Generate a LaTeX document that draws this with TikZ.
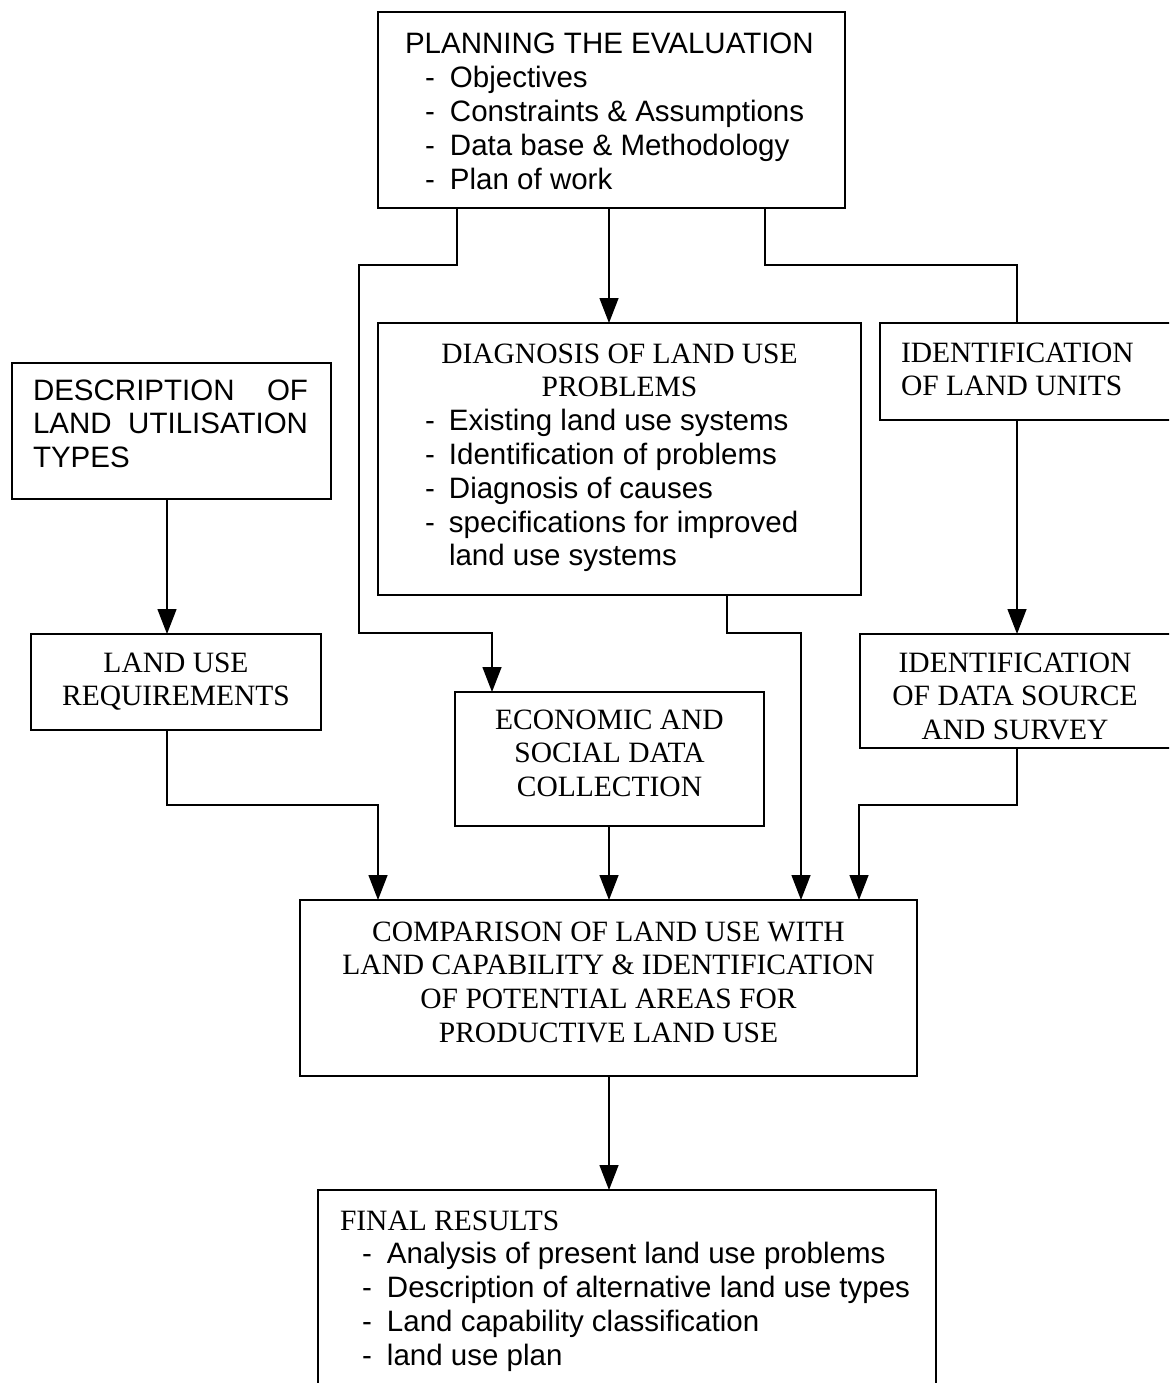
\documentclass[tikz,border=0pt]{standalone}
\usepackage{fontspec}
\setmainfont{Liberation Serif}
\setsansfont{Liberation Sans}
\usetikzlibrary{arrows.meta}
\newcommand{\txtsz}{\fontsize{29.5}{33.8}\selectfont}
\newcommand{\bul}[2]{\hspace*{#1}\makebox[#2][l]{-}}
\tikzset{
  box/.style={draw, line width=1.7pt, inner sep=0pt, outer sep=0pt},
  conn/.style={line width=1.4pt},
  arr/.style={-{Triangle[width=19pt,length=25pt]}},
  txt/.style={anchor=base west, inner sep=0pt, outer sep=0pt},
}
\begin{document}
\begin{tikzpicture}[x=1pt,y=-1pt]
\useasboundingbox (0,0) rectangle (1169,1383);
\clip (0,0) rectangle (1169,1383);
\fill[white] (0,0) rectangle (1169,1383);

% boxes
\node[box, minimum width=467pt, minimum height=196pt] (plan) at (611.5,110) {};
\node[box, minimum width=483pt, minimum height=272pt] (diag) at (619.5,459) {};
\node[box, minimum width=300pt, minimum height=97pt] (idland) at (1030,371.5) {};
\node[box, minimum width=319pt, minimum height=136pt] (desc) at (171.5,431) {};
\node[box, minimum width=290pt, minimum height=96pt] (lur) at (176,682) {};
\node[box, minimum width=309pt, minimum height=134pt] (econ) at (609.5,759) {};
\node[box, minimum width=320pt, minimum height=114pt] (datasrc) at (1020,691) {};
\node[box, minimum width=617pt, minimum height=176pt] (comp) at (608.5,988) {};
\node[box, minimum width=618pt, minimum height=210pt] (final) at (627,1295) {};

% texts
\node[txt] (plantxt) at (378,54) {\parbox[t]{467pt}{\sffamily\txtsz\raggedright
  \hspace*{27pt}PLANNING THE EVALUATION\\
  \bul{47pt}{25pt}Objectives\\
  \bul{47pt}{25pt}Constraints \& Assumptions\\
  \bul{47pt}{25pt}Data base \& Methodology\\
  \bul{47pt}{25pt}Plan of work}};

\node[txt] (diagtxt) at (378,363) {\parbox[t]{483pt}{{\rmfamily\txtsz\centering
  DIAGNOSIS OF LAND USE\\ PROBLEMS\par}
  {\sffamily\txtsz\raggedright
  \bul{47pt}{24pt}Existing land use systems\\
  \bul{47pt}{24pt}Identification of problems\\
  \bul{47pt}{24pt}Diagnosis of causes\\
  \bul{47pt}{24pt}specifications for improved\\
  \hspace*{71pt}land use systems\par}}};

\node[txt] (idlandtxt) at (901,362) {\parbox[t]{260pt}{\rmfamily\txtsz\raggedright
  IDENTIFICATION\\ OF LAND UNITS}};

\node[txt] (desctxt) at (33,400) {\parbox[t]{275pt}{\sffamily\txtsz\raggedright
  \makebox[275pt]{DESCRIPTION\hfill OF}\\
  \makebox[275pt]{LAND\hfill UTILISATION}\\
  TYPES}};

\node[txt] (lurtxt) at (31,672) {\parbox[t]{290pt}{\rmfamily\txtsz\centering
  LAND USE\\ REQUIREMENTS\par}};

\node[txt] (econtxt) at (455,729) {\parbox[t]{309pt}{\rmfamily\txtsz\centering
  ECONOMIC AND\\ SOCIAL DATA\\ COLLECTION\par}};

\node[txt] (datasrctxt) at (865,672) {\parbox[t]{300pt}{\rmfamily\txtsz\centering
  IDENTIFICATION\\ OF DATA SOURCE\\ AND SURVEY\par}};

\node[txt] (comptxt) at (300,941) {\parbox[t]{617pt}{\rmfamily\txtsz\centering
  COMPARISON OF LAND USE WITH\\
  LAND CAPABILITY \& IDENTIFICATION\\
  OF POTENTIAL AREAS FOR\\
  PRODUCTIVE LAND USE\par}};

\node[txt] (finaltxt) at (318,1230) {\parbox[t]{618pt}{{\rmfamily\txtsz\hspace*{22pt}FINAL RESULTS\par}
  {\sffamily\txtsz\raggedright
  \bul{44pt}{25pt}Analysis of present land use problems\\
  \bul{44pt}{25pt}Description of alternative land use types\\
  \bul{44pt}{25pt}Land capability classification\\
  \bul{44pt}{25pt}land use plan\par}}};

% connector coordinates
\coordinate (a1) at (457,265);
\coordinate (a2) at (359,265);
\coordinate (a3) at (359,633);
\coordinate (a4) at (492,633);
\coordinate (b1) at (609,0);
\coordinate (c1) at (765,265);
\coordinate (c2) at (1017,265);
\coordinate (d1) at (167,0);
\coordinate (e1) at (167,805);
\coordinate (e2) at (378,805);
\coordinate (f1) at (609,0);
\coordinate (g1) at (727,633);
\coordinate (g2) at (801,633);
\coordinate (h1) at (1017,0);
\coordinate (i1) at (1017,805);
\coordinate (i2) at (859,805);

% connectors
\draw[conn,arr] (plan.south -| a1) -- (a1) -- (a2) -- (a3) -- (a4) -- (econ.north -| a4);
\draw[conn,arr] (plan.south -| b1) -- (diag.north -| b1);
\draw[conn] (plan.south -| c1) -- (c1) -- (c2) -- (idland.north -| c2);
\draw[conn,arr] (desc.south -| d1) -- (lur.north -| d1);
\draw[conn,arr] (lur.south -| e1) -- (e1) -- (e2) -- (comp.north -| e2);
\draw[conn,arr] (econ.south -| f1) -- (comp.north -| f1);
\draw[conn,arr] (diag.south -| g1) -- (g1) -- (g2) -- (comp.north -| g2);
\draw[conn,arr] (idland.south -| h1) -- (datasrc.north -| h1);
\draw[conn,arr] (datasrc.south -| i1) -- (i1) -- (i2) -- (comp.north -| i2);
\draw[conn,arr] (comp.south -| f1) -- (final.north -| f1);
\end{tikzpicture}
\end{document}
